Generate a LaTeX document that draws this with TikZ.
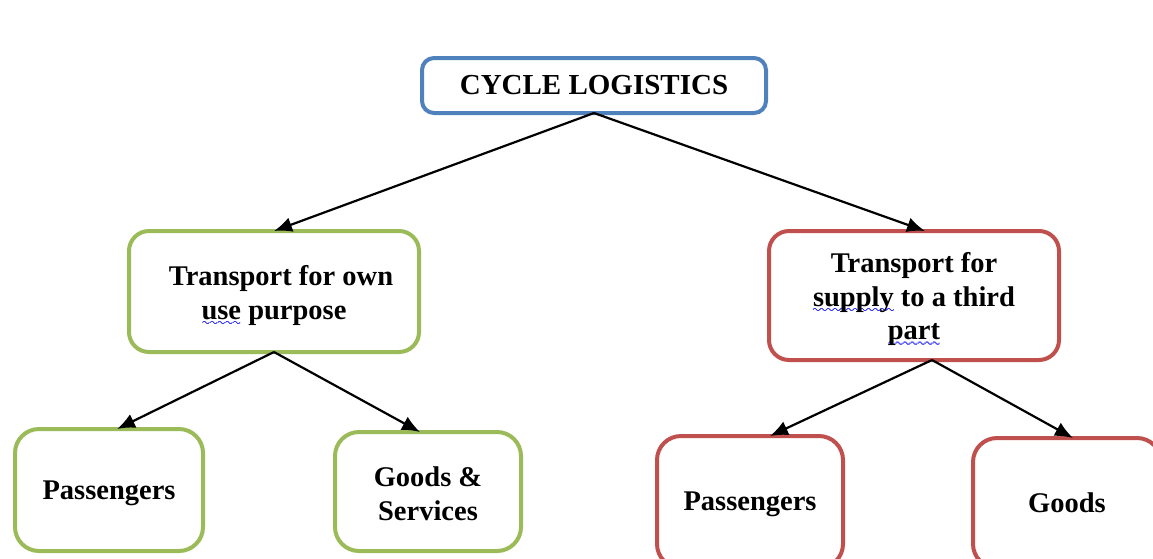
\documentclass[tikz,border=0pt]{standalone}
\usepackage{fontspec}
\setmainfont{Liberation Serif}
\usetikzlibrary{arrows.meta}
\font\mywave=lasy10 \relax
\newsavebox\squigbox
\newcommand\squigline{\hbox to\wd\squigbox{\xleaders\hbox{\mywave\char58}\hfil}}
\newcommand\squig[1]{\leavevmode\sbox\squigbox{#1}%
  \rlap{\textcolor{blue}{\lower6pt\squigline}}%
  \rlap{\textcolor{blue}{\lower6.5pt\squigline}}%
  \rlap{\textcolor{blue}{\lower6.25pt\hbox{\kern0.3pt\squigline}}}%
  \usebox\squigbox}
\definecolor{cblue}{HTML}{4F81BD}
\definecolor{cgreen}{HTML}{9BBB59}
\definecolor{cred}{HTML}{C0504D}
\tikzset{
  box/.style={draw, line width=4pt, fill=white, rounded corners=#1, align=center,
    font=\bfseries\fontsize{28.5}{33.5}\selectfont, inner sep=0pt, outer sep=0pt},
  box/.default=20pt,
  arr/.style={line width=2.2pt, -{Latex[length=18pt,width=15pt]}}
}
\begin{document}
\begin{tikzpicture}[x=1pt,y=-1pt]
\useasboundingbox (0,0) rectangle (1153,558);
\clip (0,0) rectangle (1153,558);
\node[box=12pt, draw=cblue, minimum width=344pt, minimum height=55pt,
  font=\bfseries\fontsize{29}{34}\selectfont] (top) at (594,85.5) {CYCLE LOGISTICS};
\node[box, draw=cgreen, minimum width=290pt, minimum height=121pt] (own) at (274,291.5)
  {\rule{0pt}{28pt}\hspace*{14pt}Transport for own\\\squig{use} purpose};
\node[box, draw=cred, minimum width=290pt, minimum height=129pt] (third) at (914,295.5)
  {\rule{0pt}{28pt}Transport for\\\squig{supply} to a third\\\squig{part}};
\node[box=24pt, draw=cgreen, minimum width=188pt, minimum height=122pt] (pas1) at (109,490)
  {\rule{0pt}{26pt}Passengers};
\node[box=24pt, draw=cgreen, minimum width=186pt, minimum height=119pt] (goods1) at (428,491.5)
  {\rule{0pt}{24pt}Goods \&\\Services};
\node[box=24pt, draw=cred, minimum width=186pt, minimum height=132pt] (pas2) at (750,502)
  {\rule{0pt}{24pt}Passengers};
\node[box=24pt, draw=cred, minimum width=188pt, minimum height=130pt] (goods2) at (1067,503)
  {Goods};
\draw[arr] (top.south) -- (own.north);
\draw[arr] (top.south) -- ([xshift=11pt]third.north);
\draw[arr] (own.south) -- ([xshift=8pt]pas1.north);
\draw[arr] (own.south) -- ([xshift=-8pt]goods1.north);
\draw[arr] ([xshift=18pt]third.south) -- ([xshift=20pt]pas2.north);
\draw[arr] ([xshift=18pt]third.south) -- ([xshift=6pt]goods2.north);
\end{tikzpicture}
\end{document}
